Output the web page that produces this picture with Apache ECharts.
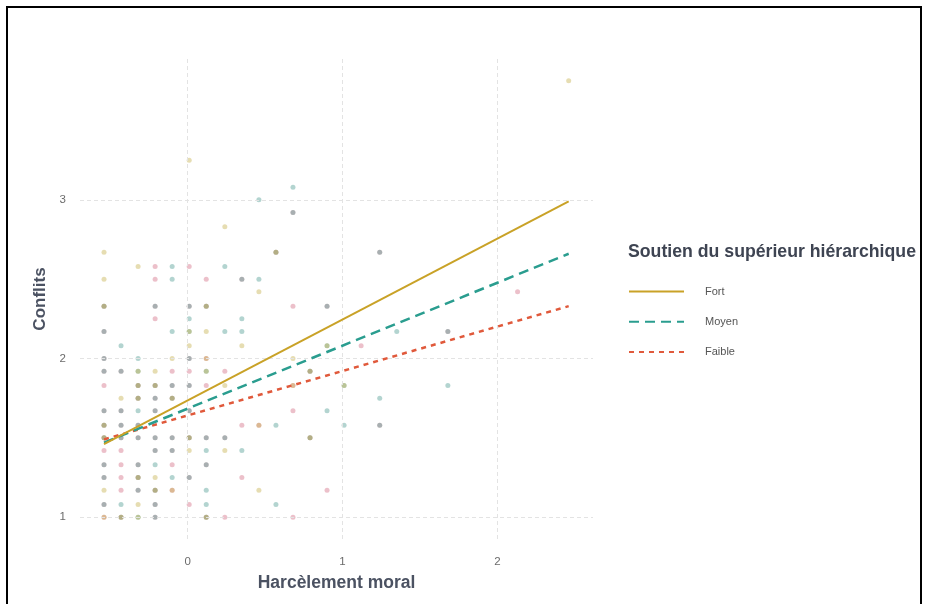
<!DOCTYPE html>
<html>
<head>
<meta charset="utf-8">
<script src="https://cdn.jsdelivr.net/npm/echarts@6/dist/echarts.min.js"></script>
<style>
html,body{margin:0;padding:0;background:#fff;}
#chart{width:926px;height:604px;}
</style>
</head>
<body>
<div id="chart"></div>
<script>
// ---- data ----
const groups = ['Fort', 'Moyen', 'Faible'];
const legendTitle = 'Soutien du supérieur hiérarchique';
const xTicks = [0, 1, 2];
const yTicks = [1, 2, 3];

// regression lines (endpoints)
const fortLine   = [[-0.54, 1.46], [2.46, 2.99]];
const moyenLine  = [[-0.54, 1.47], [2.46, 2.66]];
const faibleLine = [[-0.54, 1.49], [2.46, 2.33]];

// observed points per group  [Harcèlement moral, Conflits]
const faiblePts = [
  [-0.54,1.00],[-0.43,1.00],[-0.21,1.00],[0.12,1.00],[0.24,1.00],[0.68,1.00],
  [-0.54,1.08],[-0.21,1.08],[0.01,1.08],
  [-0.43,1.17],[-0.32,1.17],[-0.21,1.17],[-0.10,1.17],[0.90,1.17],
  [-0.54,1.25],[-0.43,1.25],[-0.32,1.25],[0.01,1.25],[0.35,1.25],
  [-0.54,1.33],[-0.43,1.33],[-0.32,1.33],[-0.10,1.33],[0.12,1.33],
  [-0.54,1.42],[-0.43,1.42],[-0.21,1.42],[-0.10,1.42],
  [-0.54,1.50],[-0.43,1.50],[-0.32,1.50],[-0.21,1.50],[-0.10,1.50],[0.01,1.50],[0.12,1.50],[0.24,1.50],[0.79,1.50],
  [-0.54,1.58],[-0.43,1.58],[-0.32,1.58],[0.35,1.58],[0.46,1.58],[1.24,1.58],
  [-0.54,1.67],[-0.43,1.67],[-0.21,1.67],[0.01,1.67],[0.68,1.67],
  [-0.32,1.75],[-0.21,1.75],[-0.10,1.75],
  [-0.54,1.83],[-0.32,1.83],[-0.21,1.83],[-0.10,1.83],[0.01,1.83],[0.12,1.83],[0.68,1.83],
  [-0.54,1.92],[-0.43,1.92],[-0.10,1.92],[0.01,1.92],[0.24,1.92],[0.79,1.92],
  [-0.54,2.00],[0.01,2.00],[0.12,2.00],
  [1.12,2.08],
  [-0.54,2.17],[1.68,2.17],
  [-0.21,2.25],
  [-0.54,2.33],[-0.21,2.33],[0.01,2.33],[0.12,2.33],[0.68,2.33],[0.90,2.33],
  [2.13,2.42],
  [-0.21,2.50],[0.12,2.50],[0.35,2.50],
  [-0.21,2.58],[0.01,2.58],
  [0.57,2.67],[1.24,2.67],
  [0.68,2.92]
];
const moyenPts = [
  [-0.43,1.00],[-0.32,1.00],[-0.21,1.00],[0.12,1.00],
  [-0.54,1.08],[-0.43,1.08],[-0.21,1.08],[0.12,1.08],[0.57,1.08],
  [-0.32,1.17],[-0.21,1.17],[0.12,1.17],
  [-0.54,1.25],[-0.32,1.25],[-0.10,1.25],[0.01,1.25],
  [-0.54,1.33],[-0.32,1.33],[-0.21,1.33],[0.12,1.33],
  [-0.21,1.42],[-0.10,1.42],[0.12,1.42],[0.35,1.42],
  [-0.54,1.50],[-0.43,1.50],[-0.32,1.50],[-0.21,1.50],[-0.10,1.50],[0.01,1.50],[0.12,1.50],[0.24,1.50],[0.79,1.50],
  [-0.54,1.58],[-0.43,1.58],[-0.32,1.58],[0.57,1.58],[1.01,1.58],[1.24,1.58],
  [-0.54,1.67],[-0.43,1.67],[-0.32,1.67],[-0.21,1.67],[0.01,1.67],[0.90,1.67],
  [-0.32,1.75],[-0.21,1.75],[-0.10,1.75],[1.24,1.75],
  [-0.32,1.83],[-0.21,1.83],[-0.10,1.83],[0.01,1.83],[1.01,1.83],[1.68,1.83],
  [-0.54,1.92],[-0.43,1.92],[-0.32,1.92],[0.12,1.92],[0.79,1.92],
  [-0.54,2.00],[-0.32,2.00],[0.01,2.00],
  [-0.43,2.08],[0.90,2.08],
  [-0.54,2.17],[-0.10,2.17],[0.01,2.17],[0.24,2.17],[0.35,2.17],[1.35,2.17],[1.68,2.17],
  [0.01,2.25],[0.35,2.25],
  [-0.54,2.33],[-0.21,2.33],[0.01,2.33],[0.12,2.33],[0.90,2.33],
  [-0.10,2.50],[0.35,2.50],[0.46,2.50],
  [-0.10,2.58],[0.24,2.58],
  [0.57,2.67],[1.24,2.67],
  [0.68,2.92],
  [0.46,3.00],
  [0.68,3.08]
];
const fortPts = [
  [-0.54,1.00],[-0.43,1.00],[-0.32,1.00],[0.12,1.00],
  [-0.32,1.08],
  [-0.54,1.17],[-0.21,1.17],[-0.10,1.17],[0.46,1.17],
  [-0.32,1.25],[-0.21,1.25],
  [0.01,1.42],[0.24,1.42],
  [-0.54,1.50],[0.01,1.50],[0.79,1.50],
  [-0.54,1.58],[0.46,1.58],
  [-0.43,1.75],[-0.32,1.75],[-0.10,1.75],
  [-0.32,1.83],[-0.21,1.83],[0.24,1.83],[0.68,1.83],[1.01,1.83],
  [-0.32,1.92],[-0.21,1.92],[0.12,1.92],[0.79,1.92],
  [-0.10,2.00],[0.12,2.00],[0.68,2.00],
  [0.01,2.08],[0.35,2.08],[0.90,2.08],
  [0.01,2.17],[0.12,2.17],
  [-0.54,2.33],[0.12,2.33],
  [0.46,2.42],
  [-0.54,2.50],
  [-0.32,2.58],
  [-0.54,2.67],[0.57,2.67],
  [0.24,2.83],
  [0.01,3.25],
  [2.46,3.75]
];

// ---- styles ----
const lineColors = {Fort: '#C9A227', Moyen: '#2A9D8F', Faible: '#E0593B'};
const pointColors = {Fort: '#C4AE48', Moyen: '#4A9890', Faible: '#D26A80'};
const FONT = 'Liberation Sans, Arial, sans-serif';

const chart = echarts.init(document.getElementById('chart'), null, {renderer: 'canvas'});

function scatter(name, data, color) {
  return {
    type: 'scatter', name: name + ' points', data: data,
    symbolSize: 5, z: 2,
    itemStyle: {color: color, opacity: 0.42},
    emphasis: {disabled: true}, silent: true
  };
}

const gridLineData = xTicks.map(v => ({xAxis: v})).concat(yTicks.map(v => ({yAxis: v})));

const option = {
  animation: false,
  backgroundColor: '#ffffff',
  textStyle: {fontFamily: FONT},
  grid: {left: 80, right: 333, top: 59, bottom: 65, containLabel: false},
  xAxis: {
    type: 'value', min: -0.695, max: 2.617,
    name: 'Harcèlement moral', nameLocation: 'middle', nameGap: 35,
    nameTextStyle: {fontSize: 17.5, fontWeight: 'bold', color: '#4b5262', fontFamily: FONT},
    axisLine: {show: false}, axisTick: {show: false}, splitLine: {show: false},
    axisLabel: {customValues: xTicks, fontSize: 11.5, color: '#6b6b6b', margin: 17}
  },
  yAxis: {
    type: 'value', min: 0.8625, max: 3.8875,
    name: 'Conflits', nameLocation: 'middle', nameGap: 30, nameRotate: 90,
    nameTextStyle: {fontSize: 17, fontWeight: 'bold', color: '#4b5262', fontFamily: FONT},
    axisLine: {show: false}, axisTick: {show: false}, splitLine: {show: false},
    axisLabel: {customValues: yTicks, fontSize: 11.5, color: '#6b6b6b', margin: 14}
  },
  title: {
    text: legendTitle, left: 628, top: 243, padding: 0,
    textStyle: {fontSize: 17.7, fontWeight: 'bold', color: '#3e4452', fontFamily: FONT}
  },
  legend: {
    data: groups, orient: 'vertical', left: 628, top: 286, padding: 0,
    itemWidth: 55, itemHeight: 14, itemGap: 19,
    itemStyle: {opacity: 0},
    textStyle: {fontSize: 11, color: '#555', padding: [0, 0, 0, 16]},
    selectedMode: false
  },
  graphic: [{
    type: 'rect', silent: true, z: 100,
    shape: {x: 7, y: 7, width: 914, height: 640},
    style: {fill: 'none', stroke: '#000', lineWidth: 2}
  }],
  series: [
    {
      type: 'line', name: '_grid', data: [], silent: true, z: 0,
      markLine: {
        silent: true, symbol: ['none', 'none'], animation: false,
        label: {show: false},
        lineStyle: {color: '#e3e3e3', type: [4, 3], width: 1},
        emphasis: {disabled: true},
        data: gridLineData
      }
    },
    scatter('Faible', faiblePts, pointColors.Faible),
    scatter('Moyen', moyenPts, pointColors.Moyen),
    scatter('Fort', fortPts, pointColors.Fort),
    {
      type: 'line', name: 'Faible', data: faibleLine, symbol: 'none', z: 5,
      lineStyle: {color: lineColors.Faible, width: 2.5, type: [5, 5]},
      itemStyle: {color: lineColors.Faible}
    },
    {
      type: 'line', name: 'Moyen', data: moyenLine, symbol: 'none', z: 6,
      lineStyle: {color: lineColors.Moyen, width: 2.5, type: [10, 6]},
      itemStyle: {color: lineColors.Moyen}
    },
    {
      type: 'line', name: 'Fort', data: fortLine, symbol: 'none', z: 7,
      lineStyle: {color: lineColors.Fort, width: 2},
      itemStyle: {color: lineColors.Fort}
    }
  ]
};
chart.setOption(option);
</script>
</body>
</html>
